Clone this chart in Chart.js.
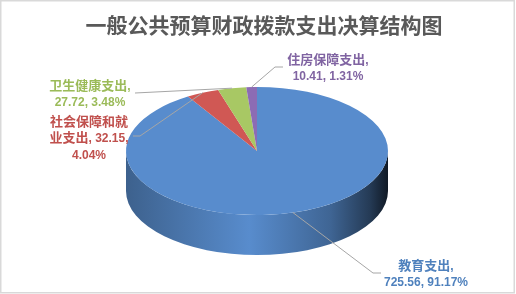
<!DOCTYPE html>
<html>
<head>
<meta charset="utf-8">
<script src="https://cdn.jsdelivr.net/npm/chart.js@4/dist/chart.umd.min.js"></script>
<style>
  html, body { margin: 0; padding: 0; background: #fff; }
  #wrap { width: 516px; height: 294px; }
</style>
</head>
<body>
<div id="wrap"><canvas id="pieChart" width="516" height="294"></canvas></div>
<script>
// data
const titleText = '一般公共预算财政拨款支出决算结构图';
const categories = ['教育支出', '社会保障和就业支出', '卫生健康支出', '住房保障支出'];
const values = [725.56, 32.15, 27.72, 10.41];
const percents = ['91.17%', '4.04%', '3.48%', '1.31%'];

const sliceColors = ['#588ccd', '#d05854', '#a8c864', '#8c6cb4'];
const labelColors = ['#4f81bd', '#c0504d', '#9bbb59', '#8064a2'];

// label placement (center x, first line y, wrap width, leader elbow, leader end)
const labelLayout = [
    { x: 426, y: 265, maxWidth: 90, elbow: [373, 273], end: [381, 273] },
    { x: 89,  y: 121, maxWidth: 85, elbow: [140, 136], end: [133, 136] },
    { x: 90,  y: 85,  maxWidth: 90, elbow: [135, 93],  end: [135, 93] },
    { x: 328, y: 59,  maxWidth: 90, elbow: [275, 67],  end: [283, 67] }
];

const tilt = 64 / 131;   // vertical squash of the pie
const depth = 40;        // thickness of the 3d side
const cjkFont = "bold 13px 'Noto Sans CJK SC', sans-serif";
const latinFont = "bold 12px 'Liberation Sans', Arial, sans-serif";
const isCjk = ch => /[\u4e00-\u9fff]/.test(ch);

function shade(hex, f) {
    const n = parseInt(hex.slice(1), 16);
    const r = Math.round(((n >> 16) & 255) * f);
    const g = Math.round(((n >> 8) & 255) * f);
    const b = Math.round((n & 255) * f);
    return `rgb(${r},${g},${b})`;
}

// split into runs of cjk / latin so each gets its own font (like Excel does)
function runs(text) {
    const out = [];
    for (const ch of text) {
        const c = isCjk(ch);
        if (out.length && out[out.length - 1].cjk === c) out[out.length - 1].s += ch;
        else out.push({ s: ch, cjk: c });
    }
    return out;
}

function measureMixed(ctx, text) {
    let w = 0;
    runs(text).forEach(r => {
        ctx.font = r.cjk ? cjkFont : latinFont;
        w += ctx.measureText(r.s).width;
    });
    return w;
}

function drawMixed(ctx, text, cx, cy) {
    let x = cx - measureMixed(ctx, text) / 2;
    ctx.textAlign = 'left';
    ctx.textBaseline = 'alphabetic';
    runs(text).forEach(r => {
        ctx.font = r.cjk ? cjkFont : latinFont;
        ctx.fillText(r.s, x, cy + 4.5);
        x += ctx.measureText(r.s).width;
    });
}

function wrapText(ctx, text, maxWidth) {
    const tokens = text.match(/[\u4e00-\u9fff][,，]?|\s+|[^\s\u4e00-\u9fff]+/g);
    const lines = [];
    let line = '';
    for (const t of tokens) {
        const test = line + t;
        if (line && measureMixed(ctx, test.trim()) > maxWidth) {
            lines.push(line.trim());
            line = t.trim() ? t : '';
        } else {
            line = test;
        }
    }
    if (line.trim()) lines.push(line.trim());
    return lines;
}

const pie3d = {
    id: 'pie3d',
    beforeDraw(chart) {
        const ctx = chart.ctx;
        ctx.save();
        ctx.fillStyle = '#fff';
        ctx.fillRect(0, 0, chart.width, chart.height);
        ctx.strokeStyle = '#d9d9d9';
        ctx.lineWidth = 1.5;
        ctx.strokeRect(0.75, 0.75, chart.width - 2.5, chart.height - 2);
        ctx.restore();
    },
    beforeDatasetsDraw(chart) {
        const ctx = chart.ctx;
        const arcs = chart.getDatasetMeta(0).data;
        const cx = arcs[0].x, cy = arcs[0].y, r = arcs[0].outerRadius;
        const ry = r * tilt;

        // side walls, only the front half is visible
        arcs.forEach((arc, i) => {
            [0, 2 * Math.PI].forEach(shift => {
                const a0 = Math.max(arc.startAngle, shift);
                const a1 = Math.min(arc.endAngle, shift + Math.PI);
                if (a1 <= a0) return;
                const grad = ctx.createLinearGradient(cx - r, 0, cx + r, 0);
                const c = sliceColors[i];
                grad.addColorStop(0, shade(c, 0.69));
                grad.addColorStop(0.47, shade(c, 1.0));
                grad.addColorStop(0.78, shade(c, 0.72));
                grad.addColorStop(0.93, shade(c, 0.42));
                grad.addColorStop(1, shade(c, 0.18));
                ctx.save();
                ctx.beginPath();
                ctx.ellipse(cx, cy, r, ry, 0, a0, a1);
                ctx.ellipse(cx, cy + depth, r, ry, 0, a1, a0, true);
                ctx.closePath();
                ctx.fillStyle = grad;
                ctx.fill();
                ctx.restore();
            });
        });

        // squash the top face into an ellipse
        ctx.save();
        ctx.translate(cx, cy);
        ctx.scale(1, tilt);
        ctx.translate(-cx, -cy);
    },
    afterDatasetsDraw(chart) {
        chart.ctx.restore();
    },
    afterDraw(chart) {
        const ctx = chart.ctx;
        const arcs = chart.getDatasetMeta(0).data;

        // title
        ctx.save();
        ctx.fillStyle = '#595959';
        ctx.font = "bold 21px 'Noto Sans CJK SC', sans-serif";
        ctx.textAlign = 'center';
        ctx.textBaseline = 'middle';
        ctx.fillText(titleText, 264, 25);
        ctx.restore();

        // leader lines + data labels
        arcs.forEach((arc, i) => {
            const lay = labelLayout[i];
            const mid = (arc.startAngle + arc.endAngle) / 2;
            const ax = arc.x + arc.outerRadius * Math.cos(mid);
            const ay = arc.y + arc.outerRadius * tilt * Math.sin(mid);

            ctx.save();
            ctx.strokeStyle = '#a6a6a6';
            ctx.lineWidth = 1;
            ctx.beginPath();
            ctx.moveTo(ax, ay);
            ctx.lineTo(lay.elbow[0], lay.elbow[1]);
            ctx.lineTo(lay.end[0], lay.end[1]);
            ctx.stroke();

            ctx.fillStyle = labelColors[i];
            const text = categories[i] + ', ' + values[i].toFixed(2) + ', ' + percents[i];
            const lines = wrapText(ctx, text, lay.maxWidth);
            lines.forEach((ln, k) => drawMixed(ctx, ln, lay.x, lay.y + k * 16.5));
            ctx.restore();
        });
    }
};

new Chart(document.getElementById('pieChart'), {
    type: 'pie',
    data: {
        labels: categories,
        datasets: [{
            data: values,
            backgroundColor: sliceColors,
            borderWidth: 0,
            radius: 131
        }]
    },
    options: {
        responsive: false,
        animation: false,
        devicePixelRatio: 1,
        layout: { padding: { top: 8, bottom: 0, left: 0, right: 2 } },
        plugins: {
            legend: { display: false },
            tooltip: { enabled: false }
        }
    },
    plugins: [pie3d]
});
</script>
</body>
</html>
